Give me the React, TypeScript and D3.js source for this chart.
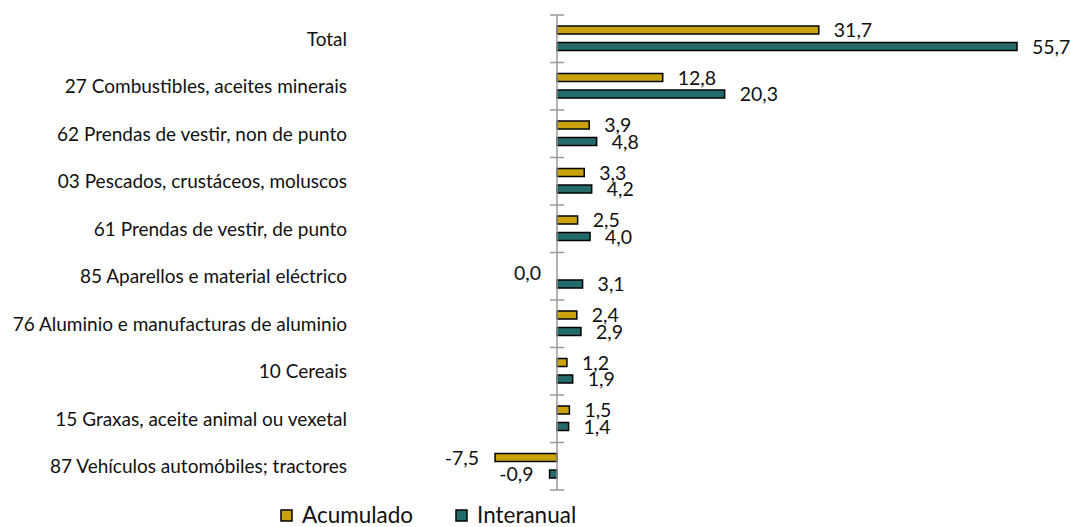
import React, { useEffect, useRef } from "react";
import * as d3 from "d3";

const categorias = [
  "Total",
  "27 Combustibles, aceites minerais",
  "62 Prendas de vestir, non de punto",
  "03 Pescados, crustáceos, moluscos",
  "61 Prendas de vestir, de punto",
  "85 Aparellos e material eléctrico",
  "76 Aluminio e manufacturas de aluminio",
  "10 Cereais",
  "15 Graxas, aceite animal ou vexetal",
  "87 Vehículos automóbiles; tractores",
];
const acumulado = [31.7, 12.8, 3.9, 3.3, 2.5, 0.0, 2.4, 1.2, 1.5, -7.5];
const interanual = [55.7, 20.3, 4.8, 4.2, 4.0, 3.1, 2.9, 1.9, 1.4, -0.9];
const series = ["Acumulado", "Interanual"];
const cores = ["#C9A20C", "#236B6B"];

const width = 1071;
const height = 527;
const font = "Lato, 'Open Sans', sans-serif";

export default function App() {
  const ref = useRef<SVGSVGElement>(null);

  useEffect(() => {
    const svg = d3.select(ref.current);
    svg.selectAll("*").remove();

    const x = d3.scaleLinear().domain([0, 55.7]).range([557, 1017]);
    const y = d3.scaleBand().domain(categorias).range([15, 490]);
    const fmt = (v: number) => d3.format(".1f")(v).replace(".", ",").replace("−", "-");

    // barras
    const valores = [acumulado, interanual];
    const offs = [11, 27.5];
    valores.forEach((vals, s) => {
      const g = svg.append("g");
      g.selectAll("rect")
        .data(vals)
        .join("rect")
        .attr("x", (d) => Math.min(x(0), x(d)))
        .attr("y", (d, i) => (y(categorias[i]) as number) + offs[s])
        .attr("width", (d) => Math.abs(x(d) - x(0)))
        .attr("height", 8)
        .attr("fill", cores[s])
        .attr("stroke", "#000")
        .attr("stroke-width", 1.5);
      g.selectAll("text")
        .data(vals)
        .join("text")
        .attr("x", (d) => (d >= 0 && !(d === 0 && s === 0) ? x(d) + 15 : x(d) - 16))
        .attr("y", (d, i) => (y(categorias[i]) as number) + offs[s] + 4 + (d === 0 ? 5 : 0))
        .attr("dy", "0.36em")
        .attr("text-anchor", (d) => (d >= 0 && !(d === 0 && s === 0) ? "start" : "end"))
        .attr("font-family", font)
        .attr("font-size", 19.5)
        .attr("fill", "#111")
        .text((d) => fmt(d));
    });

    // eixo
    const ax = svg.append("g").attr("stroke", "#9a9a9a").attr("stroke-width", 1.5);
    ax.append("line").attr("x1", x(0)).attr("x2", x(0)).attr("y1", 15).attr("y2", 490);
    const ticks = categorias.map((c) => y(c) as number).concat([490]);
    ax.selectAll("line.t")
      .data(ticks)
      .join("line")
      .attr("class", "t")
      .attr("x1", x(0) - 7)
      .attr("x2", x(0) + 7)
      .attr("y1", (d) => d)
      .attr("y2", (d) => d);

    // etiquetas de categoría
    svg.append("g")
      .selectAll("text")
      .data(categorias)
      .join("text")
      .attr("x", 347)
      .attr("y", (d) => (y(d) as number) + y.bandwidth() / 2)
      .attr("dy", "0.36em")
      .attr("text-anchor", "end")
      .attr("font-family", font)
      .attr("font-size", 19)
      .attr("fill", "#111")
      .text((d) => d);

    // lenda
    const leg = svg.append("g");
    const lx = [281, 456];
    series.forEach((s, i) => {
      leg.append("rect")
        .attr("x", lx[i])
        .attr("y", 510)
        .attr("width", 11)
        .attr("height", 11)
        .attr("fill", cores[i])
        .attr("stroke", "#000")
        .attr("stroke-width", 1.5);
      leg.append("text")
        .attr("x", lx[i] + 21)
        .attr("y", 515)
        .attr("dy", "0.36em")
        .attr("font-family", font)
        .attr("font-size", 22.5)
        .attr("fill", "#111")
        .text(s);
    });
  }, []);

  return (
    <svg
      ref={ref}
      width={width}
      height={height}
      style={{ position: "absolute", left: 0, top: 0, background: "#fff" }}
    />
  );
}
